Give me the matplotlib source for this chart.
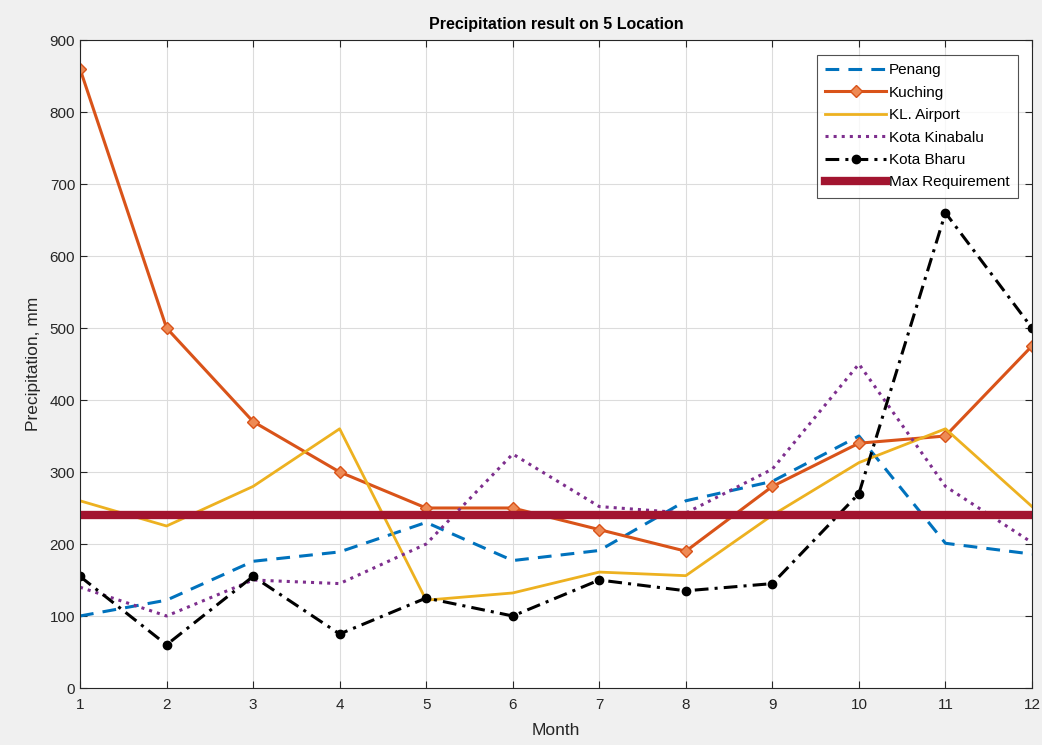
import matplotlib.pyplot as plt
import numpy as np

plt.rcParams['font.family'] = ['Liberation Sans', 'DejaVu Sans']

# Monthly precipitation (mm) for each station
months = np.arange(1, 13)
penang = [100, 122, 176, 189, 230, 177, 191, 260, 287, 350, 201, 186]
kuching = [860, 500, 370, 300, 250, 250, 220, 190, 280, 340, 350, 475]
kl_airport = [260, 225, 280, 360, 122, 132, 161, 156, 240, 313, 360, 252]
kota_kinabalu = [140, 100, 150, 145, 200, 325, 252, 243, 304, 450, 280, 202]
kota_bharu = [155, 60, 155, 75, 125, 100, 150, 135, 145, 270, 660, 500]
max_requirement = [240] * 12

fig = plt.figure(figsize=(10.42, 7.45), dpi=100, facecolor='#f0f0f0')
ax = fig.add_axes([80 / 1042, 1 - 688 / 745, 952 / 1042, 648 / 745])

ax.plot(months, penang, '--', color='#0072BD', lw=2.2, dashes=(4.5, 3),
        label='Penang')
ax.plot(months, kuching, '-D', color='#D95319', lw=2.2, ms=6.5,
        mfc='#EE8A55', mec='#D95319', label='Kuching')
ax.plot(months, kl_airport, '-', color='#EDB120', lw=2.0, label='KL. Airport')
ax.plot(months, kota_kinabalu, ':', color='#7E2F8E', lw=2.2, label='Kota Kinabalu')
ax.plot(months, kota_bharu, '-.o', color='black', lw=2.2, ms=6,
        dashes=(4.5, 2, 1, 2), label='Kota Bharu')
ax.plot(months, max_requirement, '-', color='#A2142F', lw=6, label='Max Requirement')

ax.set_xlim(1, 12)
ax.set_ylim(0, 900)
ax.set_xticks(months)
ax.set_yticks(np.arange(0, 901, 100))
ax.grid(True, color='#dcdcdc', lw=0.8)
ax.set_axisbelow(True)
ax.tick_params(direction='in', top=True, right=True, labelsize=11,
               colors='#262626', length=5)
ax.tick_params(axis='x', pad=7)
for s in ax.spines.values():
    s.set_color('#262626')

ax.set_title('Precipitation result on 5 Location', fontsize=11.5,
             fontweight='bold', pad=8)
ax.set_xlabel('Month', fontsize=12.5, color='#262626', labelpad=8)
ax.set_ylabel('Precipitation, mm', fontsize=12.5, color='#262626', labelpad=6)

leg = ax.legend(loc='upper right', bbox_to_anchor=(0.985, 0.977), fontsize=11,
                frameon=True, fancybox=False, edgecolor='#262626',
                handlelength=4.0, handletextpad=0.15, borderpad=0.55,
                labelspacing=0.55, borderaxespad=0)
leg.get_frame().set_linewidth(0.8)

fig.savefig('out.png', dpi=100, facecolor=fig.get_facecolor())
